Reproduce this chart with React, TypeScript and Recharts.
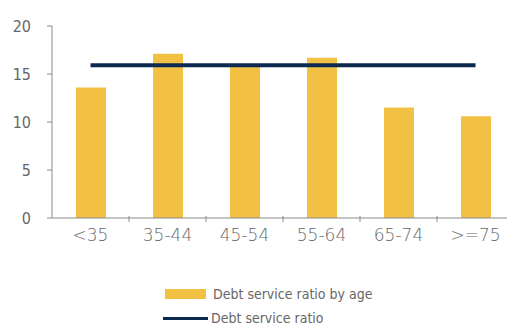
import { ComposedChart, Bar, Line, XAxis, YAxis } from "recharts";

const ageGroups = ["<35", "35-44", "45-54", "55-64", "65-74", ">=75"];
const ratioByAge = [13.6, 17.1, 15.9, 16.7, 11.5, 10.6];
const overallRatio = [15.9, 15.9, 15.9, 15.9, 15.9, 15.9];
const yTicks = [0, 5, 10, 15, 20];

const data = ageGroups.map((age, i) => ({
  age,
  byAge: ratioByAge[i],
  ratio: overallRatio[i],
}));

const GOLD = "#F2C144";
const NAVY = "#0C2A50";
const AXIS = "#8a8a8a";
const TEXT = "#666666";
const FONT = "'DejaVu Sans', sans-serif";

const CHART_W = 530;
const MARGIN_L = 8;
const MARGIN_R = 16;
const Y_W = 44;
const band = (CHART_W - MARGIN_L - MARGIN_R - Y_W) / ageGroups.length;

function AgeTick(props: any) {
  const { x, y, payload, index } = props;
  return (
    <g>
      {index > 0 && (
        <line x1={x - band / 2} x2={x - band / 2} y1={y - 10} y2={y - 4} stroke={AXIS} />
      )}
      <text
        x={x}
        y={y + 15}
        textAnchor="middle"
        fill={TEXT}
        fontSize={17}
        fontFamily={FONT}
        style={{ fontStretch: "condensed", fontWeight: 300 }}
      >
        {payload.value}
      </text>
    </g>
  );
}

function ValueTick(props: any) {
  const { x, y, payload } = props;
  return (
    <text
      x={x - 2}
      y={y + 6}
      textAnchor="end"
      fill={TEXT}
      fontSize={16}
      fontFamily={FONT}
      style={{ fontStretch: "condensed" }}
    >
      {payload.value}
    </text>
  );
}

function LegendBox() {
  return (
    <div
      style={{
        position: "absolute",
        left: 163,
        top: 282,
        fontFamily: FONT,
        fontStretch: "condensed",
        fontSize: 14,
        color: TEXT,
        whiteSpace: "nowrap",
      }}
    >
      <div style={{ display: "flex", alignItems: "center", height: 24 }}>
        <span style={{ width: 41, height: 10, background: GOLD, marginLeft: 2, marginRight: 7 }} />
        Debt service ratio by age
      </div>
      <div style={{ display: "flex", alignItems: "center", height: 24 }}>
        <span style={{ width: 45, height: 3, background: NAVY, marginRight: 3 }} />
        Debt service ratio
      </div>
    </div>
  );
}

export default function App() {
  return (
    <div style={{ position: "absolute", left: 0, top: 0, width: 507, height: 329, overflow: "hidden", background: "#fff" }}>
      <ComposedChart
        width={CHART_W}
        height={329}
        data={data}
        margin={{ top: 26, right: MARGIN_R, left: MARGIN_L, bottom: 81 }}
      >
        <XAxis
          dataKey="age"
          axisLine={{ stroke: AXIS }}
          tickLine={false}
          tick={<AgeTick />}
          height={30}
          interval={0}
        />
        <YAxis
          domain={[0, 20]}
          ticks={yTicks}
          width={Y_W}
          axisLine={{ stroke: AXIS }}
          tickLine={{ stroke: AXIS }}
          tickSize={5}
          tick={<ValueTick />}
          tickMargin={14}
        />
        <Bar dataKey="byAge" name="Debt service ratio by age" fill={GOLD} barSize={30} isAnimationActive={false} />
        <Line
          dataKey="ratio"
          name="Debt service ratio"
          stroke={NAVY}
          strokeWidth={4}
          dot={false}
          type="linear"
          isAnimationActive={false}
        />
      </ComposedChart>
      <LegendBox />
    </div>
  );
}
